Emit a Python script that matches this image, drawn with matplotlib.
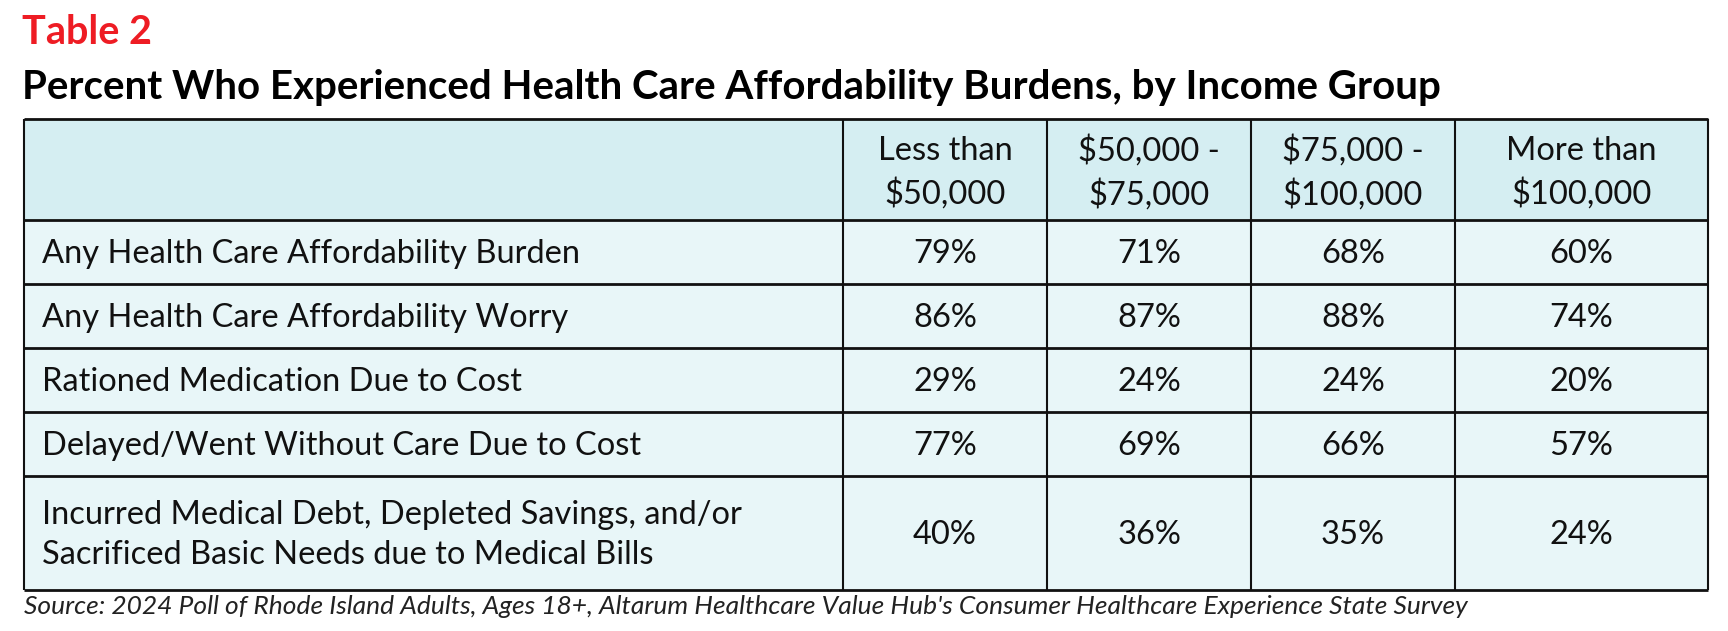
import matplotlib
matplotlib.use("Agg")
import matplotlib.pyplot as plt
from matplotlib.patches import Rectangle

columns = ["Less than\n$50,000", "$50,000 -\n$75,000", "$75,000 -\n$100,000", "More than\n$100,000"]
rows = ["Any Health Care Affordability Burden",
        "Any Health Care Affordability Worry",
        "Rationed Medication Due to Cost",
        "Delayed/Went Without Care Due to Cost",
        "Incurred Medical Debt, Depleted Savings, and/or\nSacrificed Basic Needs due to Medical Bills"]
values = [[79, 71, 68, 60],
          [86, 87, 88, 74],
          [29, 24, 24, 20],
          [77, 69, 66, 57],
          [40, 36, 35, 24]]

plt.rcParams['font.family'] = ['Lato', 'DejaVu Sans']
fig = plt.figure(figsize=(17.28, 6.31), dpi=100)
ax = fig.add_axes([0, 0, 1, 1])
ax.set_xlim(0, 1728); ax.set_ylim(631, 0); ax.axis('off')

xs = [24, 843, 1047, 1251, 1455, 1708]
ys = [119, 220, 284, 348, 412, 476, 590]
hdr, body = '#d5eef2', '#e8f6f8'
ax.add_patch(Rectangle((xs[0], ys[0]), xs[-1]-xs[0], ys[1]-ys[0], color=hdr, lw=0))
ax.add_patch(Rectangle((xs[0], ys[1]), xs[-1]-xs[0], ys[-1]-ys[1], color=body, lw=0))
for y in ys:
    ax.plot([xs[0], xs[-1]], [y, y], color='#111', lw=2, solid_capstyle='butt')
for x in xs:
    ax.plot([x, x], [ys[0], ys[-1]], color='#111', lw=1.5, solid_capstyle='butt')

fs = 23.5
for j, c in enumerate(columns):
    ax.text((xs[j+1]+xs[j+2])/2, (ys[0]+ys[1])/2 + 3, c, ha='center', va='center',
            fontsize=fs, linespacing=1.45, color='#111')
for i, r in enumerate(rows):
    yc = (ys[i+1]+ys[i+2])/2 + 2
    ax.text(xs[0]+18, yc, r, ha='left', va='center', fontsize=fs, linespacing=1.4, color='#111')
    for j, v in enumerate(values[i]):
        ax.text((xs[j+1]+xs[j+2])/2, yc, f"{v}%", ha='center', va='center', fontsize=fs, color='#111')

ax.text(22, 33, "Table 2", ha='left', va='center', fontsize=28.5, fontweight='bold', color='#ee1c24')
ax.text(22, 88, "Percent Who Experienced Health Care Affordability Burdens, by Income Group",
        ha='left', va='center', fontsize=29, fontweight='bold', color='#000')
ax.text(24, 606, "Source: 2024 Poll of Rhode Island Adults, Ages 18+, Altarum Healthcare Value Hub's Consumer Healthcare Experience State Survey",
        ha='left', va='center', fontsize=19, style='italic', color='#222')

fig.savefig("out.png", dpi=100)
